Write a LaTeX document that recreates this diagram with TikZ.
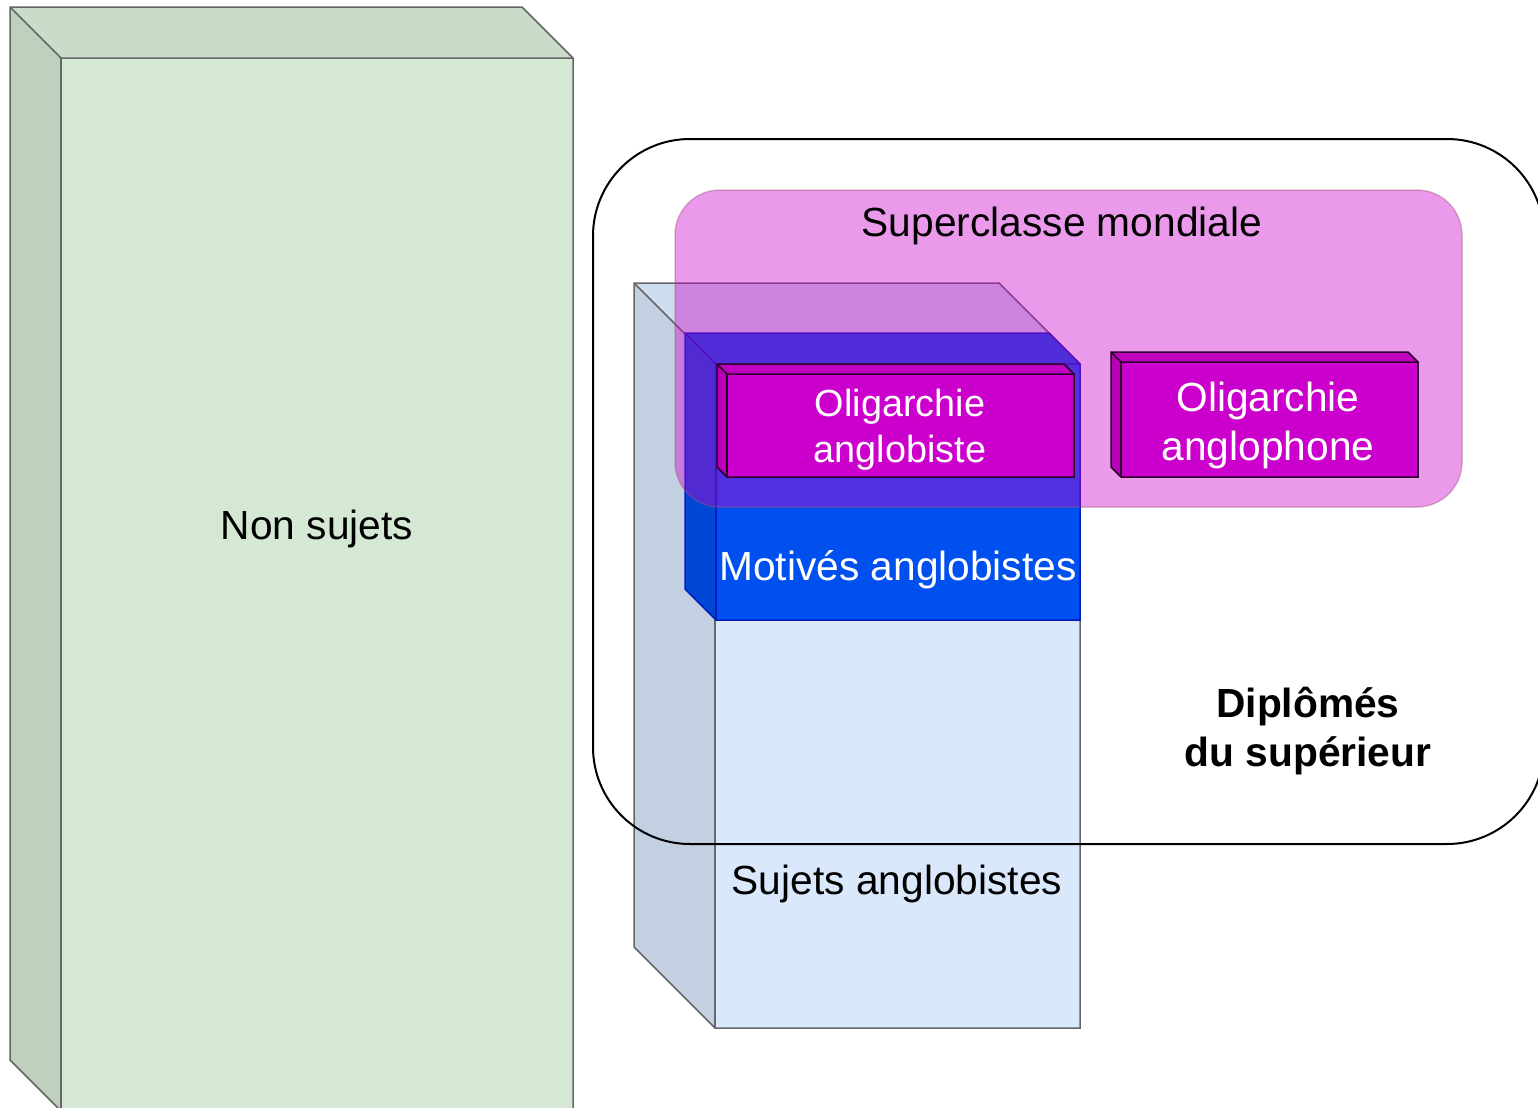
\documentclass[tikz,border=0pt]{standalone}
\usepackage{fontspec}
\setmainfont{Liberation Sans}
\definecolor{greenfill}{HTML}{D5E8D4}
\definecolor{bluefill}{HTML}{DAE8FC}
\definecolor{motfill}{HTML}{0050EF}
\definecolor{motdraw}{HTML}{001DBC}
\definecolor{oligfill}{HTML}{CC00CC}
\definecolor{oligdraw}{HTML}{2A002A}
\definecolor{cubedraw}{HTML}{666666}
\definecolor{pinkdraw}{HTML}{9C5A7A}
% #1 x, #2 y, #3 w, #4 h, #5 depth, #6 fill, #7 stroke
\newcommand\drawcube[7]{%
  \fill[#6] (#1,#2) -- ({#1+#3-#5},#2) -- ({#1+#3},{#2+#5}) -- ({#1+#3},{#2+#4}) -- ({#1+#5},{#2+#4}) -- (#1,{#2+#4-#5}) -- cycle;
  \fill[black,opacity=0.05] (#1,#2) -- ({#1+#3-#5},#2) -- ({#1+#3},{#2+#5}) -- ({#1+#5},{#2+#5}) -- cycle;
  \fill[black,opacity=0.1] (#1,#2) -- ({#1+#5},{#2+#5}) -- ({#1+#5},{#2+#4}) -- (#1,{#2+#4-#5}) -- cycle;
  \draw[cubeline,#7] (#1,#2) -- ({#1+#3-#5},#2) -- ({#1+#3},{#2+#5}) -- ({#1+#3},{#2+#4}) -- ({#1+#5},{#2+#4}) -- (#1,{#2+#4-#5}) -- cycle;
  \draw[cubeline,#7] (#1,#2) -- ({#1+#5},{#2+#5}) -- ({#1+#3},{#2+#5});
  \draw[cubeline,#7] ({#1+#5},{#2+#5}) -- ({#1+#5},{#2+#4});
}
\tikzset{
  cubeline/.style={line width=0.75pt, line join=miter},
  bigtxt/.style={font=\fontsize{20.35}{24}\selectfont, anchor=base, inner sep=0pt},
  smalltxt/.style={font=\fontsize{18.9}{23}\selectfont, anchor=base, inner sep=0pt},
}
\begin{document}
\begin{tikzpicture}[x=0.5pt,y=-0.5pt]
\useasboundingbox (0,0) rectangle (1538,1108);
\begin{scope}
\clip (0,0) rectangle (1538,1108);
% Non sujets
\drawcube{10}{7}{563}{1104}{51}{greenfill}{cubedraw}
% Sujets anglobistes
\drawcube{634}{283}{446}{745}{81}{bluefill}{cubedraw}
% Motives anglobistes
\drawcube{685}{333}{395}{287}{31}{motfill}{motdraw}
% Superclasse mondiale
\draw[fill=oligfill, draw=pinkdraw, line width=0.75pt, opacity=0.4, rounded corners=45*0.5pt] (675,190) rectangle (1462,507);
% Oligarchies
\drawcube{717}{364}{357}{113}{10}{oligfill}{oligdraw}
\drawcube{1111}{352}{307}{125}{10}{oligfill}{oligdraw}
% Diplomes du superieur
\draw[black, line width=1pt, rounded corners=97*0.5pt] (593,139) rectangle (1544,844);
\end{scope}
% texts
\node[bigtxt] (nonsujets) at (317,539) {Non sujets};
\node[bigtxt] (superclasse) at (1062,236) {Superclasse mondiale};
\node[smalltxt, text=white] (oliga1) at (900,416) {Oligarchie};
\node[smalltxt, text=white] (oliga2) at (900,462) {anglobiste};
\node[bigtxt, text=white] (oligp1) at (1268,411) {Oligarchie};
\node[bigtxt, text=white] (oligp2) at (1268,460) {anglophone};
\node[bigtxt, text=white] (motives) at (898,580) {Motivés anglobistes};
\node[bigtxt] (sujets) at (897,894) {Sujets anglobistes};
\node[bigtxt, font=\fontsize{20.35}{24}\selectfont\bfseries] (dipl1) at (1308,717) {Diplômés};
\node[bigtxt, font=\fontsize{20.35}{24}\selectfont\bfseries] (dipl2) at (1308,766) {du supérieur};
\end{tikzpicture}
\end{document}
